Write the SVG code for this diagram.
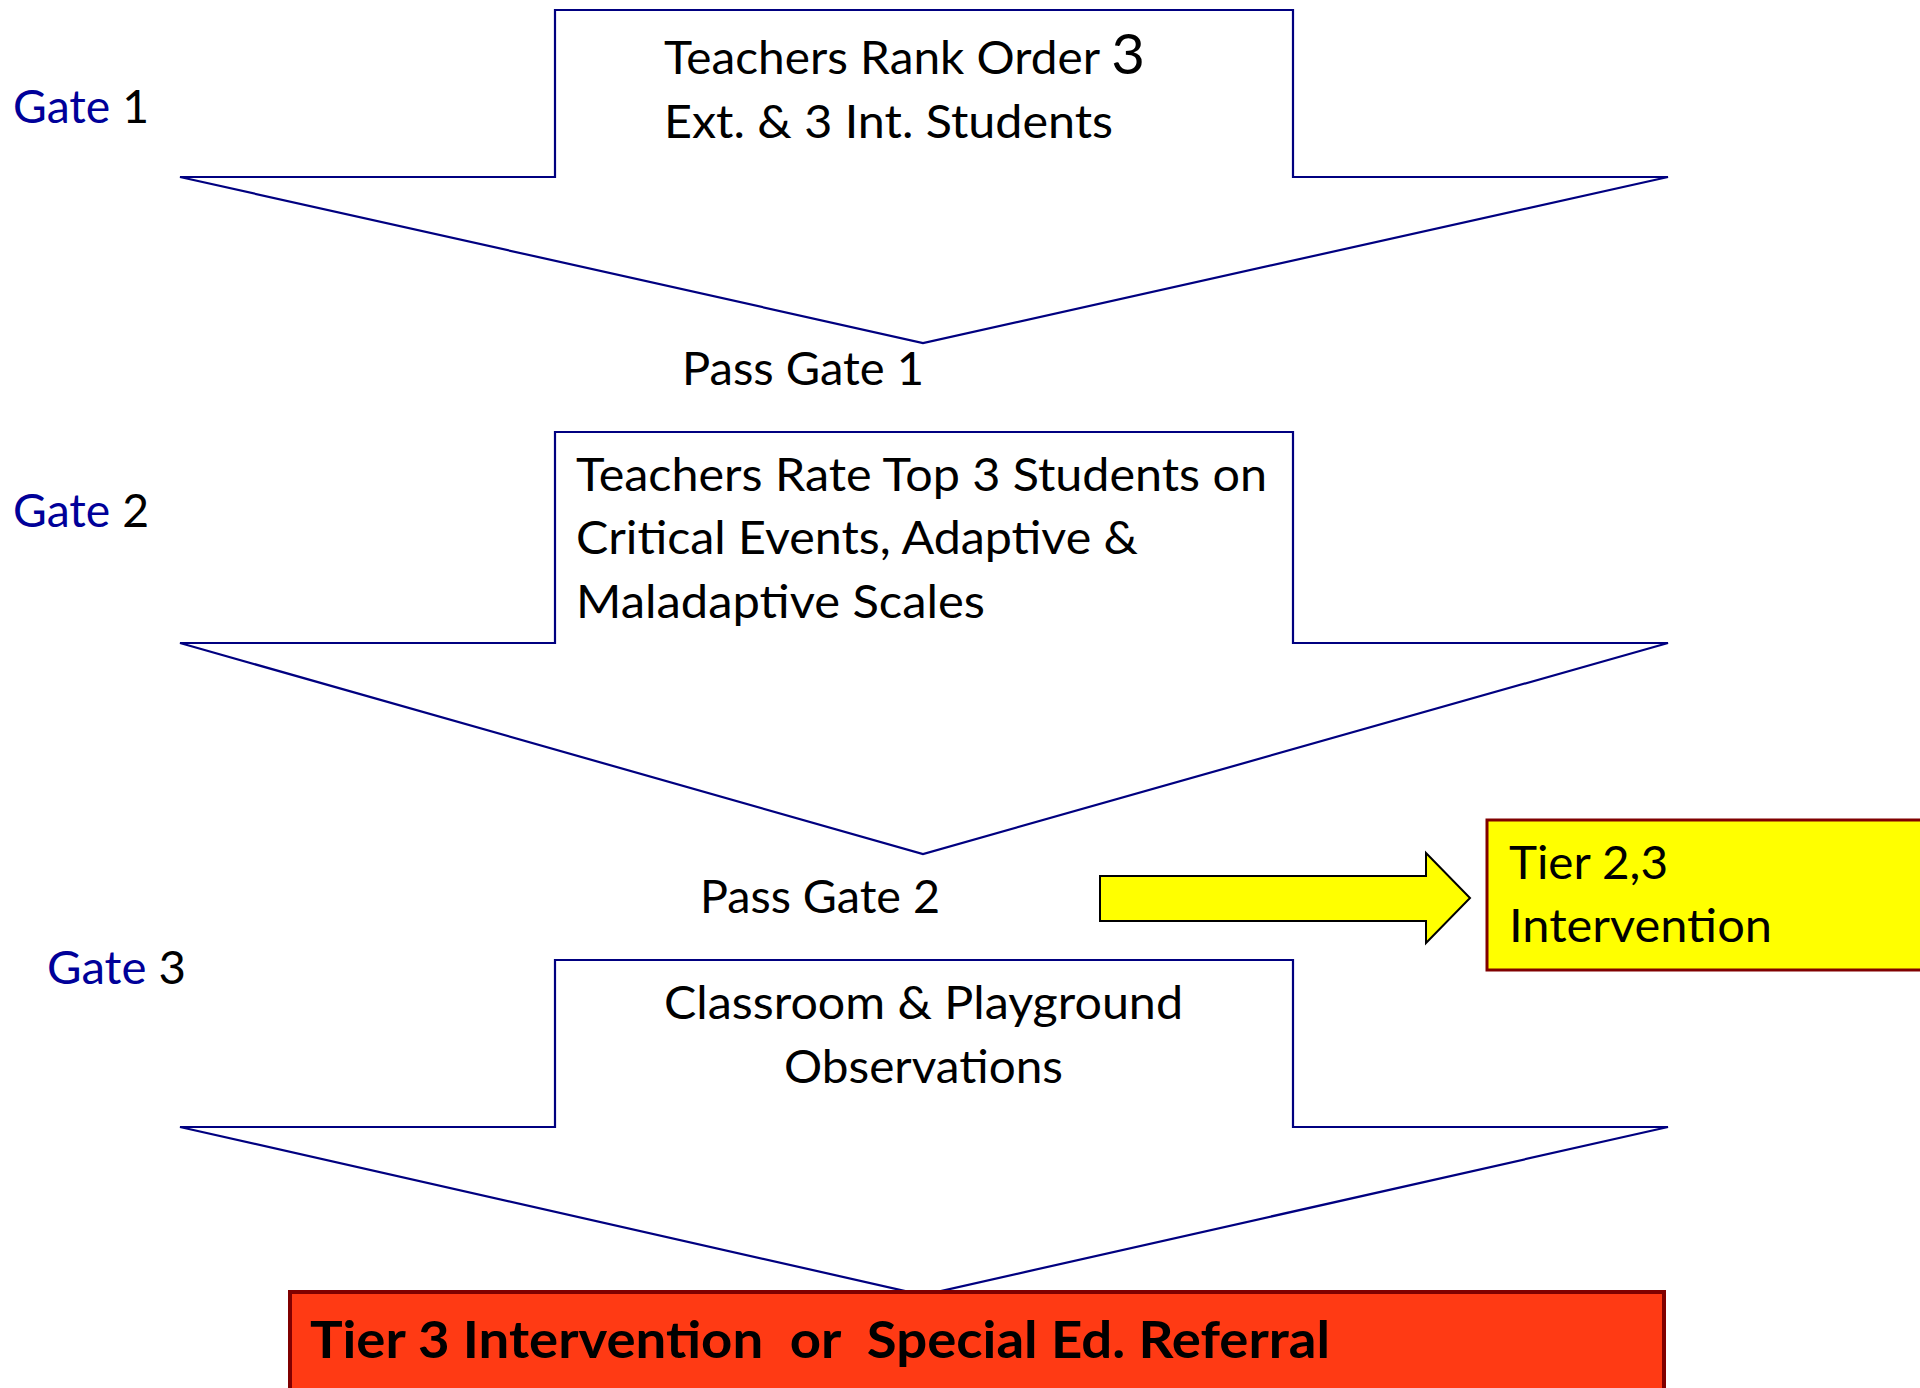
<svg xmlns="http://www.w3.org/2000/svg" width="1920" height="1388" viewBox="0 0 1920 1388">
<style>
.arrow{fill:#fff;stroke:#000080;stroke-width:2.2;stroke-linejoin:miter}
.t{font-family:Lato,"Open Sans","Liberation Sans",sans-serif;font-size:46px;fill:#000}
.g{font-family:Lato,"Open Sans","Liberation Sans",sans-serif;font-size:46px;fill:#000}
.blue{fill:#000099}
.b{font-family:Lato,"Open Sans","Liberation Sans",sans-serif;font-size:52px;font-weight:bold;fill:#000;white-space:pre}
</style>
<rect width="1920" height="1388" fill="#fff"/>
<g id="labels">
<text class="g" x="13" y="123" textLength="136" lengthAdjust="spacingAndGlyphs"><tspan class="blue">Gate</tspan> 1</text>
<text class="g" x="13" y="527" textLength="136" lengthAdjust="spacingAndGlyphs"><tspan class="blue">Gate</tspan> 2</text>
<text class="g" x="47" y="984" textLength="139" lengthAdjust="spacingAndGlyphs"><tspan class="blue">Gate</tspan> 3</text>
</g>
<g id="gate1">
<polygon class="arrow" points="555,10 1293,10 1293,177 1668,177 923,343 180,177 555,177"/>
<text class="t" x="664" y="74" textLength="481" lengthAdjust="spacingAndGlyphs">Teachers Rank Order <tspan font-size="56">3</tspan></text>
<text class="t" x="664" y="138" textLength="449" lengthAdjust="spacingAndGlyphs">Ext. &amp; 3 Int. Students</text>
</g>
<text id="pass1" class="t" x="682" y="385" textLength="242" lengthAdjust="spacingAndGlyphs">Pass Gate 1</text>
<g id="gate2">
<polygon class="arrow" points="555,432 1293,432 1293,643 1668,643 923,854 180,643 555,643"/>
<text class="t" x="576" y="491" textLength="691" lengthAdjust="spacingAndGlyphs">Teachers Rate Top 3 Students on</text>
<text class="t" x="576" y="554" textLength="562" lengthAdjust="spacingAndGlyphs">Critical Events, Adaptive &amp;</text>
<text class="t" x="576" y="618" textLength="409" lengthAdjust="spacingAndGlyphs">Maladaptive Scales</text>
</g>
<text id="pass2" class="t" x="700" y="913" textLength="240" lengthAdjust="spacingAndGlyphs">Pass Gate 2</text>
<g id="connectors">
<polygon points="1100,876 1426,876 1426,853 1470,898 1426,943 1426,921 1100,921" fill="#ffff00" stroke="#000" stroke-width="2"/>
</g>
<g id="tier23">
<rect x="1487" y="820" width="440" height="150" fill="#ffff00" stroke="#800000" stroke-width="3"/>
<text class="t" x="1509" y="879" textLength="159" lengthAdjust="spacingAndGlyphs">Tier 2,3</text>
<text class="t" x="1509" y="942" textLength="263" lengthAdjust="spacingAndGlyphs">Intervention</text>
</g>
<g id="gate3">
<polygon class="arrow" points="555,960 1293,960 1293,1127 1668,1127 923,1295 180,1127 555,1127"/>
<text class="t" x="664" y="1019" textLength="519" lengthAdjust="spacingAndGlyphs">Classroom &amp; Playground</text>
<text class="t" x="784" y="1083" textLength="279" lengthAdjust="spacingAndGlyphs">Observations</text>
</g>
<g id="tier3">
<rect x="290" y="1292" width="1374" height="120" fill="#ff3a14" stroke="#800000" stroke-width="4"/>
<text class="b" x="310" y="1358" textLength="1020" lengthAdjust="spacingAndGlyphs" xml:space="preserve">Tier 3 Intervention  or  Special Ed. Referral</text>
</g>
</svg>
